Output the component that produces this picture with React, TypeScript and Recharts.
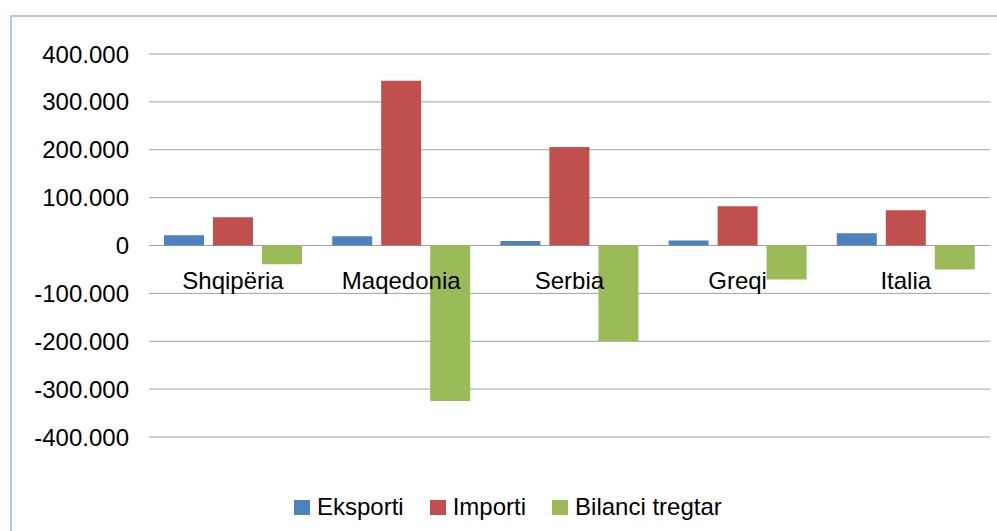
import React from "react";
import {
    BarChart,
    Bar,
    XAxis,
    YAxis,
    CartesianGrid,
    Legend,
    LabelList,
} from "recharts";

const categories = ["Shqipëria", "Maqedonia", "Serbia", "Greqi", "Italia"];
const eksporti = [21500, 19500, 9500, 10500, 25500];
const importi = [59000, 344000, 206000, 82000, 73500];
const bilanci = [-39000, -325000, -200000, -71000, -50000];
const yTicks = [-400000, -300000, -200000, -100000, 0, 100000, 200000, 300000, 400000];

const series = [
    { key: "eksporti", name: "Eksporti", color: "#4F81BD" },
    { key: "importi", name: "Importi", color: "#C0504D" },
    { key: "bilanci", name: "Bilanci tregtar", color: "#9BBB59" },
];

const data = categories.map((name, i) => ({
    name,
    eksporti: eksporti[i],
    importi: importi[i],
    bilanci: bilanci[i],
}));

const FONT = "'Liberation Sans', Arial, sans-serif";
const BAR_SIZE = 40;
const BAR_GAP = 9;

const fmt = (v: number) => {
    if (v === 0) return "0";
    const abs = Math.abs(v);
    const s = String(abs).replace(/\B(?=(\d{3})+(?!\d))/g, ".");
    return (v < 0 ? "-" : "") + s;
};

// category names sit just under the zero line, centred on the group
const CategoryLabel = (props: any) => {
    const vb = props.viewBox && props.viewBox.width !== undefined ? props.viewBox : props;
    const x = Number(vb.x);
    const y = Number(vb.y);
    const w = Number(vb.width);
    const h = Number(vb.height);
    const base = y + h;
    const cx = x + w / 2 - (BAR_SIZE + BAR_GAP);
    return (
        <text
            x={cx}
            y={base + 43}
            textAnchor="middle"
            fontSize={24}
            fontFamily={FONT}
            fill="#000"
        >
            {props.value}
        </text>
    );
};

const LegendContent = () => (
    <div
        style={{
            display: "flex",
            alignItems: "center",
            paddingLeft: 286,
            paddingTop: 56,
            height: 28,
            fontFamily: FONT,
            fontSize: 24,
            color: "#000",
        }}
    >
        {series.map((s) => (
            <div key={s.key} style={{ display: "flex", alignItems: "center", marginRight: 26 }}>
                <span style={{ width: 16, height: 15, background: s.color, marginRight: 7 }} />
                <span>{s.name}</span>
            </div>
        ))}
    </div>
);

export default function App() {
    return (
        <div
            style={{
                position: "fixed",
                left: 0,
                top: 0,
                width: 997,
                height: 531,
                overflow: "hidden",
                background: "#fff",
            }}
        >
            <div
                style={{
                    position: "absolute",
                    left: 10,
                    top: 15,
                    width: 1040,
                    height: 600,
                    border: "2px solid #a9cdf2",
                    boxSizing: "border-box",
                }}
            />
            <div style={{ position: "absolute", left: 8, top: 8 }}>
                <BarChart
                    width={989}
                    height={523}
                    data={data}
                    margin={{ top: 46, right: 7, left: 0, bottom: 10 }}
                    barSize={BAR_SIZE}
                    barGap={BAR_GAP}
                >
                    <CartesianGrid vertical={false} stroke="#a0a0a0" strokeWidth={1} />
                    <XAxis dataKey="name" hide />
                    <YAxis
                        domain={[-400000, 400000]}
                        ticks={yTicks}
                        tickFormatter={fmt}
                        axisLine={false}
                        tickLine={false}
                        tickSize={0}
                        tickMargin={20}
                        width={141}
                        interval={0}
                        tick={{ fontSize: 24, fill: "#000", fontFamily: FONT }}
                    />
                    <Legend
                        verticalAlign="bottom"
                        height={84}
                        content={<LegendContent />}
                        wrapperStyle={{ left: 0, width: 989 }}
                    />
                    {series.map((s) => (
                        <Bar
                            key={s.key}
                            dataKey={s.key}
                            name={s.name}
                            fill={s.color}
                            isAnimationActive={false}
                        >
                            {s.key === "bilanci" ? (
                                <LabelList dataKey="name" content={<CategoryLabel />} />
                            ) : null}
                        </Bar>
                    ))}
                </BarChart>
            </div>
        </div>
    );
}
